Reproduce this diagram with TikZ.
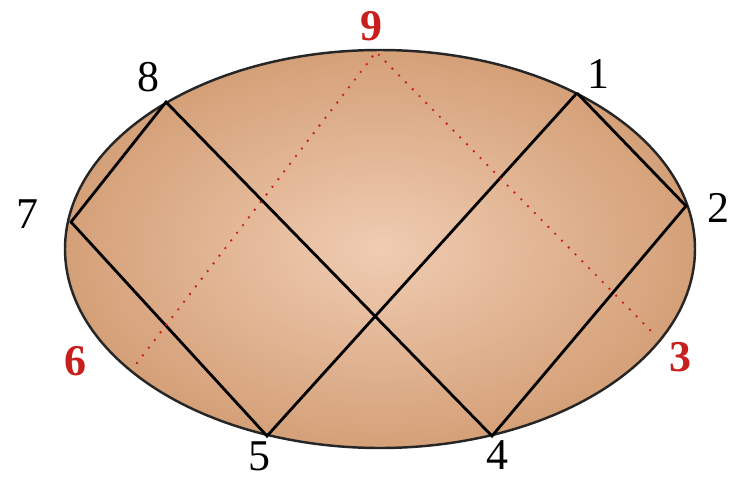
\documentclass[tikz,border=0pt]{standalone}
\usepackage{fontspec}
\setmainfont{Liberation Serif}
\usetikzlibrary{positioning}
\definecolor{skin}{RGB}{212,160,120}
\definecolor{skinlight}{RGB}{240,204,178}
\definecolor{numred}{RGB}{200,30,28}
\begin{document}
\begin{tikzpicture}[x=0.02cm,y=-0.02cm,
  chord/.style={draw=black,line width=1.6pt},
  hidden/.style={draw=numred,line width=1.5pt,line cap=round,dash pattern=on 0pt off 5.5pt},
  num/.style={font=\fontsize{25}{28}\selectfont,inner sep=0pt},
  rednum/.style={num,text=numred,font=\fontsize{25}{28}\selectfont\bfseries}]
\useasboundingbox (0,0) rectangle (738,481);
\shade[inner color=skinlight,outer color=skin] (380,249) ellipse [x radius=315,y radius=199];
\draw[line width=1.4pt,black!85] (380,249) ellipse [x radius=315,y radius=199];
% points on the rim
\coordinate (p1) at (577,93);
\coordinate (p2) at (686,206);
\coordinate (p3) at (653,333);
\coordinate (p4) at (492,436);
\coordinate (p5) at (267,436);
\coordinate (p6) at (137,363);
\coordinate (p7) at (71,222);
\coordinate (p8) at (166,102);
\coordinate (p9) at (376,52);
% labels
\node[num] (l1) at (598,74) {1};
\node[num] (l2) at (718,208) {2};
\node[rednum] (l3) at (680,357) {3};
\node[num] (l4) at (497,455) {4};
\node[num] (l5) at (259,456) {5};
\node[rednum] (l6) at (75,361) {6};
\node[num] (l7) at (27,214) {7};
\node[num] (l8) at (148,77) {8};
\node[rednum] (l9) at (371,26) {9};
% chords
\draw[chord] (p1)--(p2)--(p4)--(p8)--(p7)--(p5)--(p1);
\draw[hidden] (p6)--(p9)--(p3);
\end{tikzpicture}
\end{document}
